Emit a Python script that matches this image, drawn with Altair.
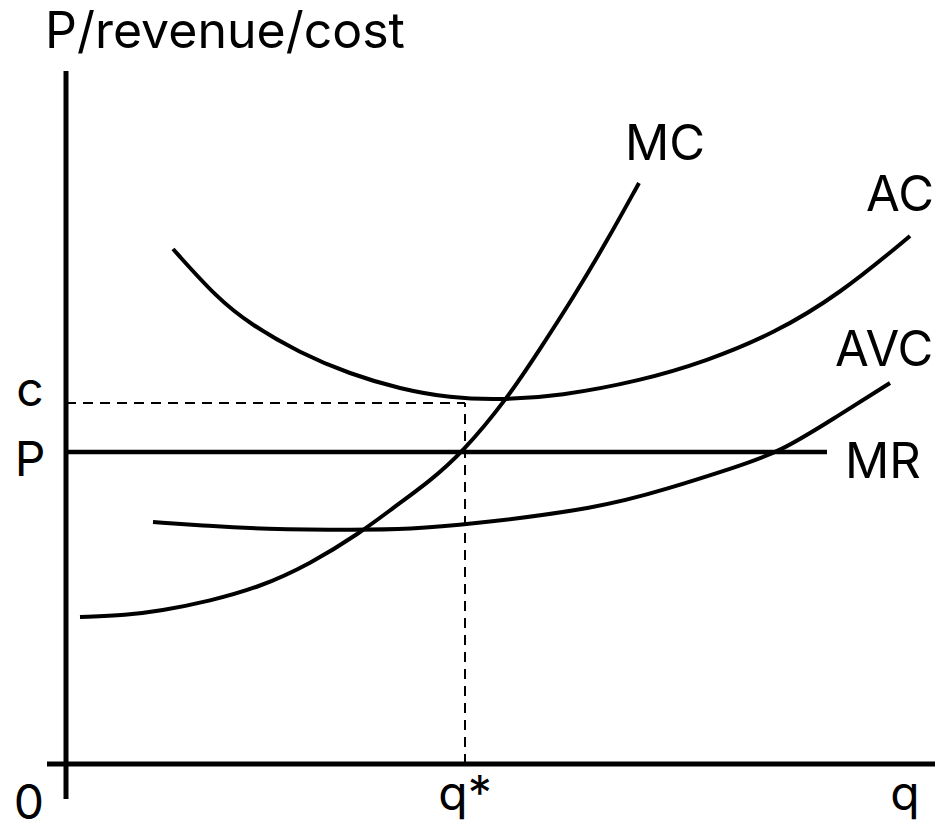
import altair as alt
import pandas as pd

# Curves (quantity q, price/cost p)
mc_q = [14, 61, 94, 144, 194, 244, 294, 327, 364, 396, 441, 474, 507, 541, 573]
mc_p = [147, 149, 153, 163, 177, 200, 231, 256, 283, 311, 365, 415, 466, 523, 581]

ac_q = [107, 151, 184, 234, 284, 334, 384, 434, 494, 574, 641, 707, 774, 844]
ac_p = [515, 466, 440, 411, 390, 375, 366, 364, 368, 383, 403, 430, 470, 528]

avc_q = [87, 144, 194, 294, 344, 399, 534, 601, 667, 714, 767, 824]
avc_p = [242, 238, 235, 234, 235, 239, 256, 275, 296, 312, 345, 381]

mr_p = 312
c_level = 361
q_star = 399

curves = pd.concat([
    pd.DataFrame({"q": mc_q, "p": mc_p, "curve": "MC"}),
    pd.DataFrame({"q": ac_q, "p": ac_p, "curve": "AC"}),
    pd.DataFrame({"q": avc_q, "p": avc_p, "curve": "AVC"}),
], ignore_index=True)

X = alt.Scale(domain=[-58, 878], nice=False, zero=False)
Y = alt.Scale(domain=[-56, 755], nice=False, zero=False)
FONT = "Inter"


def xe(f="q"):
    return alt.X(f"{f}:Q", scale=X, axis=None)


def ye(f="p"):
    return alt.Y(f"{f}:Q", scale=Y, axis=None)


curve_layer = alt.Chart(curves).mark_line(
    interpolate="basis", color="black", strokeWidth=4
).encode(x=xe(), y=ye(), detail="curve:N")

axes_df = pd.DataFrame({"q": [0, -19], "q2": [0, 869], "p": [-35, 0], "p2": [693, 0]})
mr_df = pd.DataFrame({"q": [0], "q2": [761], "p": [mr_p], "p2": [mr_p]})
dash_df = pd.DataFrame({"q": [0, q_star], "q2": [q_star, q_star],
                        "p": [c_level, 0], "p2": [c_level, c_level]})

axes_layer = alt.Chart(axes_df).mark_rule(color="black", strokeWidth=5).encode(
    x=xe(), x2="q2:Q", y=ye(), y2="p2:Q")
mr_layer = alt.Chart(mr_df).mark_rule(color="black", strokeWidth=4.5).encode(
    x=xe(), x2="q2:Q", y=ye(), y2="p2:Q")
dash_layer = alt.Chart(dash_df).mark_rule(
    color="black", strokeWidth=2, strokeDash=[10, 7]).encode(
    x=xe(), x2="q2:Q", y=ye(), y2="p2:Q")

title_df = pd.DataFrame({"text": ["P/revenue/cost"], "q": [-21], "p": [716]})
title_layer = alt.Chart(title_df).mark_text(
    align="left", baseline="alphabetic", font=FONT, fontSize=50, color="black"
).encode(x=xe(), y=ye(), text="text:N")

labels = pd.DataFrame({
    "text": ["MC", "AC", "AVC", "MR"],
    "q": [559, 800, 769, 779],
    "p": [604, 553, 398, 286],
})
label_layer = alt.Chart(labels).mark_text(
    align="left", baseline="alphabetic", font=FONT, fontSize=49, color="black"
).encode(x=xe(), y=ye(), text="text:N")

ticks = pd.DataFrame({
    "text": ["c", "P", "0", "q*", "q"],
    "q": [-36, -36, -37, q_star, 839],
    "p": [358, 288, -55, -46, -46],
})
tick_layer = alt.Chart(ticks).mark_text(
    align="center", baseline="alphabetic", font=FONT, fontSize=48, color="black"
).encode(x=xe(), y=ye(), text="text:N")

chart = alt.layer(
    dash_layer, axes_layer, mr_layer, curve_layer, title_layer, label_layer, tick_layer
).properties(
    width=936, height=811,
    padding=0,
    background="white",
).configure_view(stroke=None)

chart.save("out.html", embed_options={"renderer": "svg", "actions": False})
